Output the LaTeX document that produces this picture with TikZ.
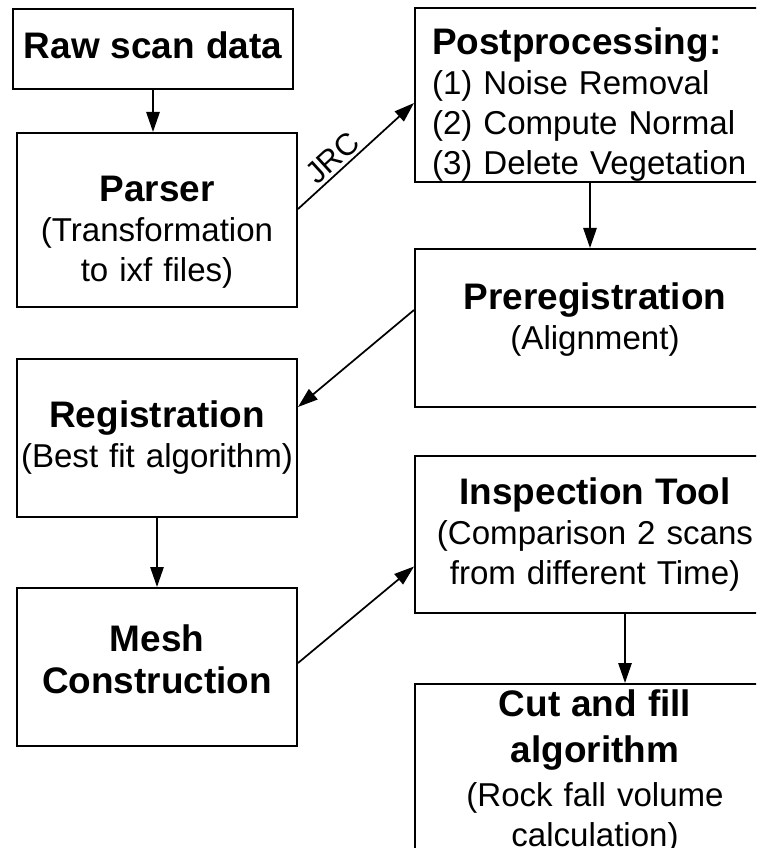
\documentclass[tikz,border=0pt]{standalone}
\usepackage{fontspec}
\setmainfont{Liberation Sans}
\usetikzlibrary{positioning,arrows.meta}

\newcommand{\hd}[1]{{\fontsize{27.7pt}{30pt}\selectfont\bfseries #1}}

\begin{document}
\begin{tikzpicture}[
  box/.style={draw, line width=1.5pt, inner ysep=0pt, align=center, font=\fontsize{24.8pt}{30pt}\selectfont},
  lbox/.style={box, inner xsep=0pt, text width=210pt},
  rbox/.style={box, inner xsep=12.75pt, text width=244.5pt},
  flow/.style={line width=1.3pt, -{Triangle[length=15pt, width=10pt]}}
]
\useasboundingbox (0,0) rectangle (567pt,-636pt);
\clip (0,0) rectangle (567pt,-636pt);

% left column
\node (raw) [lbox, minimum height=60pt, text depth=6pt] at (114.75pt,-36.75pt) {\hd{Raw scan data}};
\node (parser) [lbox, minimum height=130.5pt, text depth=47.2pt, below=31.5pt of raw, xshift=3pt] {\hd{Parser}\\(Transformation\\to ixf files)};
\node (reg) [lbox, minimum height=118.5pt, below=37.5pt of parser] {\hd{Registration}\\(Best fit algorithm)};
\node (mesh) [lbox, minimum height=118.5pt, text depth=44pt, below=51.75pt of reg] {\hd{Mesh}\\[2pt]\hd{Construction}};

% right column
\node (post) [rbox, align=left, minimum height=130.5pt, text depth=80.2pt] at (446.25pt,-71.25pt) {\hd{Postprocessing:}\\(1) Noise Removal\\(2) Compute Normal\\(3) Delete Vegetation};
\node (prereg) [rbox, minimum height=118.5pt, text depth=47.2pt, below=48.75pt of post] {\hd{Preregistration}\\(Alignment)};
\node (insp) [rbox, minimum height=117.75pt, below=35.25pt of prereg] {\hd{Inspection Tool}\\(Comparison 2 scans\\from different Time)};
\node (cut) [rbox, minimum height=141pt, text depth=112pt, below=51.75pt of insp] {\hd{Cut and fill}\\[4.5pt]\hd{algorithm}\\[3pt](Rock fall volume\\calculation)};

% connectors
\draw[flow] (raw) -- (raw |- parser.north);
\draw[flow] ([yshift=8.25pt]parser.east) -- node (jrc) [sloped, above, pos=0.38, inner sep=2pt, font=\fontsize{23pt}{26pt}\selectfont] {JRC} ([yshift=-6pt]post.west);
\draw[flow] ([xshift=-3.75pt]post.south) -- ([xshift=-3.75pt]post.south |- prereg.north);
\draw[flow] ([yshift=13.5pt]prereg.west) -- ([yshift=23.25pt]reg.east);
\draw[flow] (reg) -- (mesh);
\draw[flow] ([yshift=3pt]mesh.east) -- ([yshift=-24pt]insp.west);
\draw[flow] ([xshift=22.5pt]insp.south) -- ([xshift=22.5pt]insp.south |- cut.north);
\end{tikzpicture}
\end{document}
